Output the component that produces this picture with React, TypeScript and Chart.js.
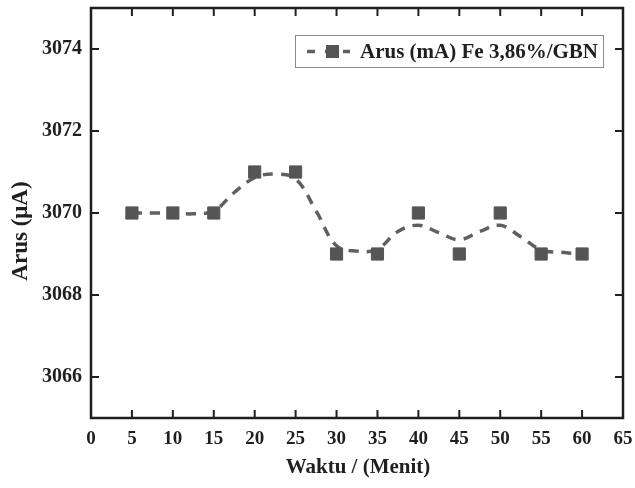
import React, { useEffect, useRef } from 'react';
import { Chart, registerables } from 'chart.js';

Chart.register(...registerables);

// Measured points
const timeMinutes = [5, 10, 15, 20, 25, 30, 35, 40, 45, 50, 55, 60];
const currentValues = [3070, 3070, 3070, 3071, 3071, 3069, 3069, 3070, 3069, 3070, 3069, 3069];

// Smoothed (B-spline-like) dashed curve
const curveX = [5, 7.5, 10, 12.5, 15, 17.5, 20, 22.5, 25, 27.5, 30, 32.5, 35, 37.5, 40, 42.5, 45, 47.5, 50, 52.5, 55, 57.5, 60];
const curveY = [3070.0, 3070.0, 3070.0, 3069.98, 3070.05, 3070.5, 3070.86, 3070.95, 3070.83, 3070.05, 3069.2, 3069.07, 3069.12, 3069.55, 3069.7, 3069.52, 3069.35, 3069.55, 3069.7, 3069.42, 3069.1, 3069.04, 3069.0];

const xRange = [0, 65];
const yRange = [3065, 3075];

const seriesLabel = 'Arus (mA) Fe 3,86%/GBN';
const xTitle = 'Waktu / (Menit)';
const yTitle = 'Arus (\u03BCA)';

const FONT = '"Liberation Serif", "Times New Roman", serif';
const INK = '#1f1f1f';
const MARK = '#555555';
const LINE = '#606060';

const decorPlugin = {
  id: 'decor',
  afterDraw(chart: any) {
    const { ctx, chartArea, scales } = chart;
    const { left, right, top, bottom } = chartArea;
    const xs = scales.x;
    const ys = scales.y;
    ctx.save();
    ctx.strokeStyle = INK;
    ctx.lineWidth = 2;
    ctx.lineCap = 'butt';
    const seg = (x1: number, y1: number, x2: number, y2: number) => {
      ctx.beginPath();
      ctx.moveTo(x1, y1);
      ctx.lineTo(x2, y2);
      ctx.stroke();
    };
    xs.ticks.forEach((t: any) => {
      if (t.value <= xRange[0] || t.value >= xRange[1]) return;
      const px = xs.getPixelForValue(t.value);
      const major = Math.abs(t.value % 5) < 1e-6;
      const len = major ? 8 : 4;
      seg(px, bottom, px, bottom - len);
      seg(px, top, px, top + len);
    });
    ys.ticks.forEach((t: any) => {
      if (t.value <= yRange[0] || t.value >= yRange[1]) return;
      const py = ys.getPixelForValue(t.value);
      const major = Math.abs(t.value % 2) < 1e-6;
      const len = major ? 8 : 4;
      seg(left, py, left + len, py);
      seg(right, py, right - len, py);
    });
    // frame
    ctx.lineWidth = 2.5;
    ctx.strokeRect(left, top, right - left, bottom - top);

    // axis titles
    ctx.fillStyle = INK;
    ctx.font = `bold 21px ${FONT}`;
    ctx.textAlign = 'center';
    ctx.textBaseline = 'middle';
    ctx.fillText(xTitle, (left + right) / 2 + 1, 468);
    ctx.save();
    ctx.translate(21, 231);
    ctx.rotate(-Math.PI / 2);
    ctx.font = `bold 23px ${FONT}`;
    ctx.fillText(yTitle, 0, 0);
    ctx.restore();

    // legend
    const bx = 295, by = 35, bw = 308, bh = 32;
    ctx.fillStyle = '#ffffff';
    ctx.fillRect(bx, by, bw, bh);
    ctx.strokeStyle = '#8a8a8a';
    ctx.lineWidth = 1;
    ctx.strokeRect(bx + 0.5, by + 0.5, bw, bh);
    const ly = by + bh / 2 + 0.5;
    ctx.strokeStyle = LINE;
    ctx.lineWidth = 3.5;
    ctx.setLineDash([8, 10]);
    ctx.beginPath();
    ctx.moveTo(307, ly);
    ctx.lineTo(350, ly);
    ctx.stroke();
    ctx.setLineDash([]);
    ctx.fillStyle = MARK;
    ctx.fillRect(326, ly - 6.5, 13, 13);
    ctx.fillStyle = INK;
    ctx.font = `bold 21px ${FONT}`;
    ctx.textAlign = 'left';
    ctx.textBaseline = 'middle';
    ctx.fillText(seriesLabel, 360, ly + 1);
    ctx.restore();
  },
};

export default function App() {
  const ref = useRef<HTMLCanvasElement | null>(null);
  useEffect(() => {
    if (!ref.current) return;
    const chart = new Chart(ref.current, {
      type: 'line',
      data: {
        datasets: [
          {
            label: seriesLabel,
            data: timeMinutes.map((x, i) => ({ x, y: currentValues[i] })),
            showLine: false,
            pointStyle: 'rect',
            pointRadius: 8.6,
            pointBackgroundColor: MARK,
            pointBorderColor: MARK,
            pointBorderWidth: 1,
          },
          {
            label: 'curve',
            data: curveX.map((x, i) => ({ x, y: curveY[i] })),
            borderColor: LINE,
            borderWidth: 3.5,
            borderDash: [10, 8],
            pointRadius: 0,
            tension: 0.4,
            fill: false,
          },
        ],
      },
      options: {
        responsive: false,
        animation: false,
        layout: { padding: { top: 8, right: 12, left: 0, bottom: 0 }, autoPadding: false },
        plugins: { legend: { display: false }, tooltip: { enabled: false } },
        scales: {
          x: {
            type: 'linear',
            min: xRange[0],
            max: xRange[1],
            grid: { display: false, drawTicks: false },
            border: { display: false },
            afterFit: (s: any) => {
              s.height = 70;
              s.paddingLeft = 0;
              s.paddingRight = 0;
            },
            ticks: {
              stepSize: 2.5,
              autoSkip: false,
              maxRotation: 0,
              padding: 10,
              color: INK,
              font: { family: FONT, size: 19, weight: 'bold' },
              callback: (v: any) => (Math.abs(Number(v) % 5) < 1e-6 ? String(v) : null),
            },
          },
          y: {
            type: 'linear',
            min: yRange[0],
            max: yRange[1],
            grid: { display: false, drawTicks: false },
            border: { display: false },
            afterFit: (s: any) => {
              s.width = 91;
              s.paddingTop = 0;
              s.paddingBottom = 0;
            },
            ticks: {
              stepSize: 1,
              autoSkip: false,
              padding: 9,
              color: INK,
              font: { family: FONT, size: 20, weight: 'bold' },
              callback: (v: any) => (Math.abs(Number(v) % 2) < 1e-6 ? String(v) : null),
            },
          },
        },
      },
      plugins: [decorPlugin],
    } as any);
    return () => chart.destroy();
  }, []);
  return (
    <div style={{ position: 'absolute', left: 0, top: 0, width: 635, height: 488, background: '#fff' }}>
      <canvas ref={ref} width={635} height={488} />
    </div>
  );
}
